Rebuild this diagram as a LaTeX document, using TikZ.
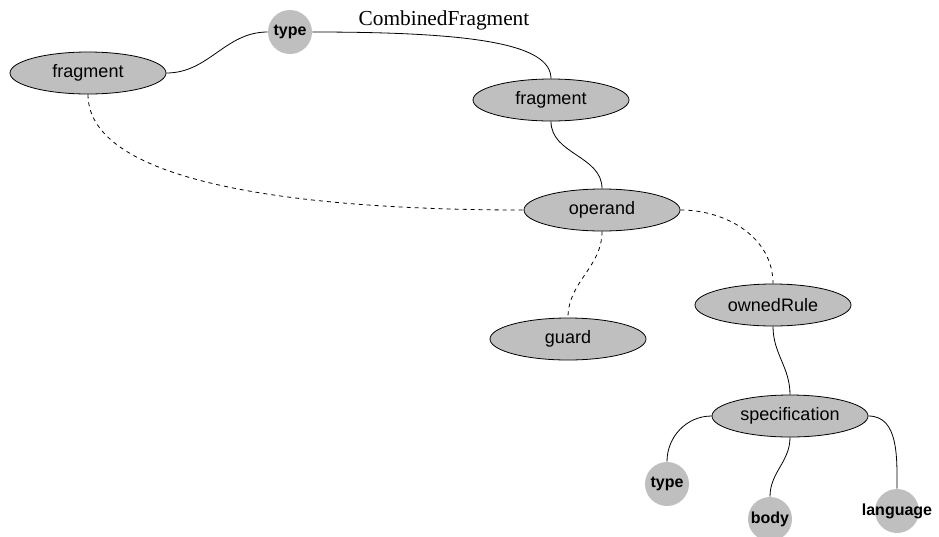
\documentclass[tikz,border=0pt]{standalone}
\usepackage{fontspec}
\setmainfont{Liberation Sans}
\newfontfamily\valuefont{Liberation Serif}
\usetikzlibrary{shapes.geometric}

\begin{document}
\begin{tikzpicture}[x=0.75pt, y=-0.75pt, semithick]
        \tikzstyle{elem}=[ellipse, draw, fill=lightgray, minimum width=117pt, minimum height=31.5pt, inner sep=0pt, font=\fontsize{13.5}{16}\selectfont]
        \tikzstyle{attr}=[circle, fill=lightgray, minimum size=33pt, inner sep=0pt, font=\fontsize{12}{14}\selectfont\bfseries]
        \tikzstyle{ref}=[dashed]

        \useasboundingbox (0,0) rectangle (939,536);

        \node   (frag1)   [elem] at (88,73)   {fragment};
        \node   (type1)   [attr] at (290,32)  {type};
        \node   (value)   [font=\valuefont\fontsize{16}{19}\selectfont] at (444,20) {CombinedFragment};
        \node   (frag2)   [elem] at (551,100) {fragment};
        \node   (operand) [elem] at (602,210) {operand};
        \node   (guard)   [elem] at (568,339) {guard};
        \node   (rule)    [elem] at (773,305) {ownedRule};
        \node   (spec)    [elem] at (790,416) {specification};
        \node   (type2)   [attr] at (667,484) {type};
        \node   (body)    [attr] at (770,519) {body};
        \node   (lang)    [attr] at (897,511) {\makebox[0pt]{language}};

        \draw (frag1.east) to[out=0, in=180] (type1.west);
        \draw (type1.east) .. controls +(160,0) and +(0,-35) .. (frag2.north);
        \draw (frag2.south) to[out=-90, in=90] (operand.north);
        \draw[ref] (frag1.south) .. controls +(0,90) and +(-220,0) .. (operand.west);
        \draw[ref] (operand.south) to[out=-90, in=90] (guard.north);
        \draw[ref] (operand.east) to[out=0, in=90] (rule.north);
        \draw (rule.south) to[out=-90, in=90] (spec.north);
        \draw (spec.west) to[out=180, in=90] (type2.north);
        \draw (spec.south) to[out=-90, in=90] (body.north);
        \draw (spec.east) to[out=0, in=90] (lang.north);

\end{tikzpicture}
\end{document}
